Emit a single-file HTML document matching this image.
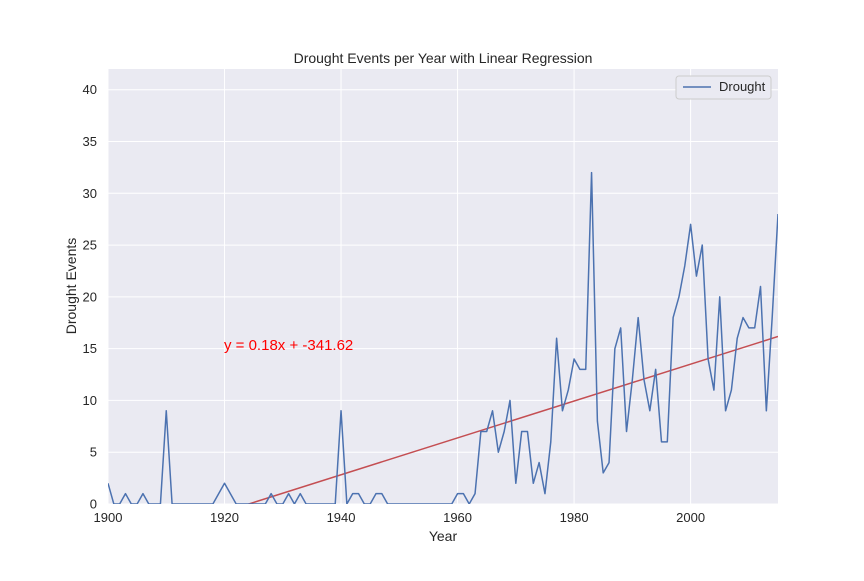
<!DOCTYPE html>
<html><head><meta charset="utf-8"><style>
body{margin:0;background:#fff;}
svg text{font-family:"Liberation Sans",sans-serif;}
</style></head><body>
<svg id="c" width="864" height="576" xmlns="http://www.w3.org/2000/svg">
<defs><clipPath id="clip"><rect x="108" y="69" width="670" height="435"/></clipPath></defs>
<rect x="108" y="69" width="670" height="435" fill="#eaeaf2"/>
<g id="grid"></g>
<g id="ticks"></g>
<g id="series" clip-path="url(#clip)"></g>
<text x="443" y="63" text-anchor="middle" font-size="14" fill="#262626">Drought Events per Year with Linear Regression</text>
<text x="443" y="541" text-anchor="middle" font-size="14" fill="#262626">Year</text>
<text transform="translate(76,286) rotate(-90)" text-anchor="middle" font-size="14" fill="#262626">Drought Events</text>
<text x="224" y="350" font-size="15" fill="red">y = 0.18x + -341.62</text>
<g>
<rect x="676" y="76" width="95" height="23" rx="3" fill="#eaeaf2" stroke="#cccccc"/>
<line x1="683" y1="87" x2="711" y2="87" stroke="#4c72b0" stroke-width="1.5"/>
<text x="719" y="91" font-size="13" fill="#262626">Drought</text>
</g>
</svg>
<script>
const years=[];for(let y=1900;y<=2015;y++)years.push(y);
const droughts=[2,0,0,1,0,0,1,0,0,0,9,0,0,0,0,0,0,0,0,1,2,1,0,0,0,0,0,0,1,0,0,1,0,1,0,0,0,0,0,0,9,0,1,1,0,0,1,1,0,0,0,0,0,0,0,0,0,0,0,0,1,1,0,1,7,7,9,5,7,10,2,7,7,2,4,1,6,16,9,11,14,13,13,32,8,3,4,15,17,7,12,18,12,9,13,6,6,18,20,23,27,22,25,14,11,20,9,11,16,18,17,17,21,9,18,28];
const yTicks=[0,5,10,15,20,25,30,35,40];
const xTicks=[1900,1920,1940,1960,1980,2000];
const slope=[0.178];const intercept=[-342.5];
const X=v=>108+(v-1900)*(670/115);
const Y=v=>504-v*(435/42);
const ns="http://www.w3.org/2000/svg";
function mk(t,a,p){const e=document.createElementNS(ns,t);for(const k in a)e.setAttribute(k,a[k]);p.appendChild(e);return e;}
const g=document.getElementById('grid'),tk=document.getElementById('ticks'),s=document.getElementById('series');
yTicks.forEach(v=>{
 const l=mk('line',{x1:108,x2:778,y1:Y(v),y2:Y(v),stroke:'#fff','stroke-width':1},g);
 
 
 const t=mk('text',{x:97,y:Y(v)+4.5,'text-anchor':'end','font-size':13,fill:'#262626'},tk);
 t.textContent=v;
 
 
});
xTicks.forEach(v=>{
 const l=mk('line',{x1:X(v),x2:X(v),y1:69,y2:504,stroke:'#fff','stroke-width':1},g);
 
 
 const t=mk('text',{x:X(v),y:522,'text-anchor':'middle','font-size':13,fill:'#262626'},tk);
 t.textContent=v;
 
 
});
const x0=years[0],x1=years[years.length-1];
const rl=mk('line',{x1:X(x0),y1:Y(slope[0]*x0+intercept[0]),x2:X(x1),y2:Y(slope[0]*x1+intercept[0]),stroke:'#c44e52','stroke-width':1.5},s);


const pl=mk('polyline',{points:years.map((y,i)=>X(y)+','+Y(droughts[i])).join(' '),fill:'none',stroke:'#4c72b0','stroke-width':1.5,'stroke-linejoin':'round'},s);


</script>
</body></html>
